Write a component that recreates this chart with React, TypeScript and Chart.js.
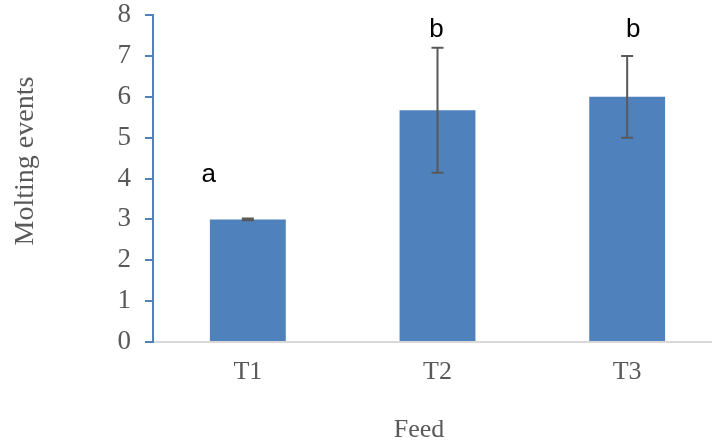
import React, { useEffect, useRef } from "react";
import { Chart, registerables } from "chart.js";

Chart.register(...registerables);

const categories = ["T1", "T2", "T3"];
const means = [3.0, 5.67, 6.0];
const errors = [0.02, 1.53, 1.0];
const sigLetters = ["a", "b", "b"];
const sigLetterValues = [3.92, 7.47, 7.47];
const yTicks = [0, 1, 2, 3, 4, 5, 6, 7, 8];
const yTitle = "Molting events";
const xTitle = "Feed";

const sigLetterDx = [-39, -1, 6];

export default function App() {
  const ref = useRef<HTMLCanvasElement | null>(null);

  useEffect(() => {
    if (!ref.current) return;

    const overlay = {
      id: "overlay",
      afterDatasetsDraw(chart: any) {
        const ctx = chart.ctx;
        const ys = chart.scales.y;
        const meta = chart.getDatasetMeta(0);
        ctx.save();
        // error bars
        ctx.strokeStyle = "#595959";
        ctx.lineWidth = 2;
        meta.data.forEach((bar: any, i: number) => {
          const x = bar.x;
          const yTop = ys.getPixelForValue(means[i] + errors[i]);
          const yBot = ys.getPixelForValue(means[i] - errors[i]);
          ctx.beginPath();
          ctx.moveTo(x, yTop);
          ctx.lineTo(x, yBot);
          ctx.moveTo(x - 6, yTop);
          ctx.lineTo(x + 6, yTop);
          ctx.moveTo(x - 6, yBot);
          ctx.lineTo(x + 6, yBot);
          ctx.stroke();
        });
        // significance letters
        ctx.fillStyle = "#000000";
        ctx.font = "26px 'Liberation Sans', Arial, sans-serif";
        ctx.textAlign = "center";
        ctx.textBaseline = "alphabetic";
        meta.data.forEach((bar: any, i: number) => {
          ctx.fillText(sigLetters[i], bar.x + sigLetterDx[i], ys.getPixelForValue(sigLetterValues[i]));
        });
        // axis titles
        ctx.fillStyle = "#595959";
        ctx.font = "28px 'Liberation Serif', 'Times New Roman', serif";
        ctx.save();
        ctx.translate(33, 161);
        ctx.rotate(-Math.PI / 2);
        ctx.textAlign = "center";
        ctx.textBaseline = "alphabetic";
        ctx.fillText(yTitle, 0, 0);
        ctx.restore();
        ctx.font = "26px 'Liberation Serif', 'Times New Roman', serif";
        ctx.textAlign = "center";
        ctx.fillText(xTitle, 419, 437);
        ctx.restore();
      },
    };

    const chart = new Chart(ref.current, {
      type: "bar",
      data: {
        labels: categories,
        datasets: [
          {
            data: means,
            backgroundColor: "#4F81BD",
            borderWidth: 0,
            barPercentage: 1,
            categoryPercentage: 0.4,
          },
        ],
      },
      options: {
        responsive: false,
        animation: false,
        devicePixelRatio: 1,
        layout: { padding: { top: 15, right: 0, bottom: 0, left: 0 } },
        plugins: {
          legend: { display: false },
          tooltip: { enabled: false },
        },
        scales: {
          x: {
            grid: { display: false, drawTicks: false },
            border: { display: true, color: "#D9D9D9", width: 2 },
            ticks: {
              color: "#595959",
              font: { family: "'Liberation Serif', 'Times New Roman', serif", size: 26 },
              padding: 15,
            },
            afterFit(scale: any) {
              scale.height = 103;
              scale.paddingLeft = 0;
              scale.paddingRight = 0;
            },
          },
          y: {
            min: 0,
            max: 8,
            afterBuildTicks(scale: any) {
              scale.ticks = yTicks.map((v) => ({ value: v }));
            },
            grid: {
              drawOnChartArea: false,
              drawTicks: true,
              tickLength: 8,
              color: "#4F81BD",
              lineWidth: 2,
            },
            border: { display: true, color: "#4F81BD", width: 2 },
            ticks: {
              color: "#595959",
              font: { family: "'Liberation Serif', 'Times New Roman', serif", size: 27 },
              padding: 14,
            },
            afterFit(scale: any) {
              scale.width = 153;
              scale.paddingTop = 0;
              scale.paddingBottom = 0;
            },
          },
        },
      },
      plugins: [overlay],
    });
    return () => chart.destroy();
  }, []);

  return (
    <div
      style={{
        position: "fixed",
        left: 0,
        top: 0,
        width: 712,
        height: 445,
        overflow: "hidden",
        background: "#ffffff",
      }}
    >
      <canvas ref={ref} width={722} height={445} style={{ width: 722, height: 445, display: "block" }} />
    </div>
  );
}
